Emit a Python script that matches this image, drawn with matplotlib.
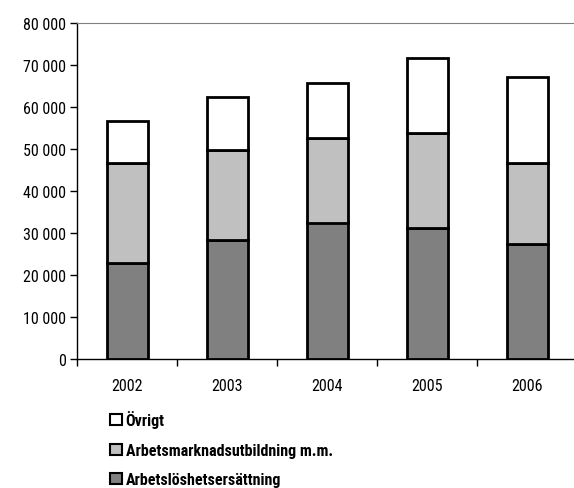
import matplotlib
matplotlib.use("Agg")
import matplotlib.pyplot as plt
from matplotlib.patches import Patch
from matplotlib.ticker import FuncFormatter

years = ["2002", "2003", "2004", "2005", "2006"]
arbetsloshet = [22900, 28300, 32500, 31100, 27500]
utbildning = [23800, 21500, 20200, 22600, 19100]
ovrigt = [10000, 12500, 13000, 17900, 20600]

series_labels = ["Arbetslöshetsersättning", "Arbetsmarknadsutbildning m.m.", "Övrigt"]
colors = ["#808080", "#c0c0c0", "#ffffff"]

plt.rcParams["font.family"] = ["Roboto Condensed", "DejaVu Sans"]

fig = plt.figure(figsize=(5.74, 4.89), dpi=100)
ax = fig.add_axes([77 / 574, 129 / 489, 500 / 574, 336 / 489])

x = range(len(years))
bottom = [0] * len(years)
handles = []
for vals, col, lab in zip([arbetsloshet, utbildning, ovrigt], colors, series_labels):
    ax.bar(x, vals, width=0.41, bottom=bottom, color=col, edgecolor="black",
           linewidth=2, zorder=3)
    bottom = [b + v for b, v in zip(bottom, vals)]
    handles.append(Patch(facecolor=col, edgecolor="black", linewidth=1.5, label=lab))

ax.set_xlim(-0.5, 4.5)
ax.set_ylim(0, 80000)
ax.set_yticks(range(0, 80001, 10000))
ax.yaxis.set_major_formatter(FuncFormatter(lambda v, p: f"{int(v):,}".replace(",", " ")))
ax.set_xticks([i + 0.5 for i in range(-1, 5)], minor=True)
ax.set_xticks(list(x))
ax.set_xticklabels(years)
ax.tick_params(axis="x", which="major", length=0, pad=14, labelsize=11.5)
ax.tick_params(axis="x", which="minor", length=5, width=1, direction="out")
ax.tick_params(axis="y", length=5, width=1, direction="out", labelsize=11.5, pad=3)

ax.spines["right"].set_visible(False)
ax.spines["top"].set_color("#808080")
ax.spines["left"].set_linewidth(1)
ax.spines["bottom"].set_linewidth(1)

fig.legend(handles=handles[::-1], loc="upper left", bbox_to_anchor=(104 / 574, 1 - 405 / 489),
           frameon=False, handlelength=0.7, handleheight=0.7, handletextpad=0.25,
           labelspacing=0.9, prop={"weight": "bold", "size": 11.5}, borderaxespad=0)

fig.savefig("out.png", dpi=100)
